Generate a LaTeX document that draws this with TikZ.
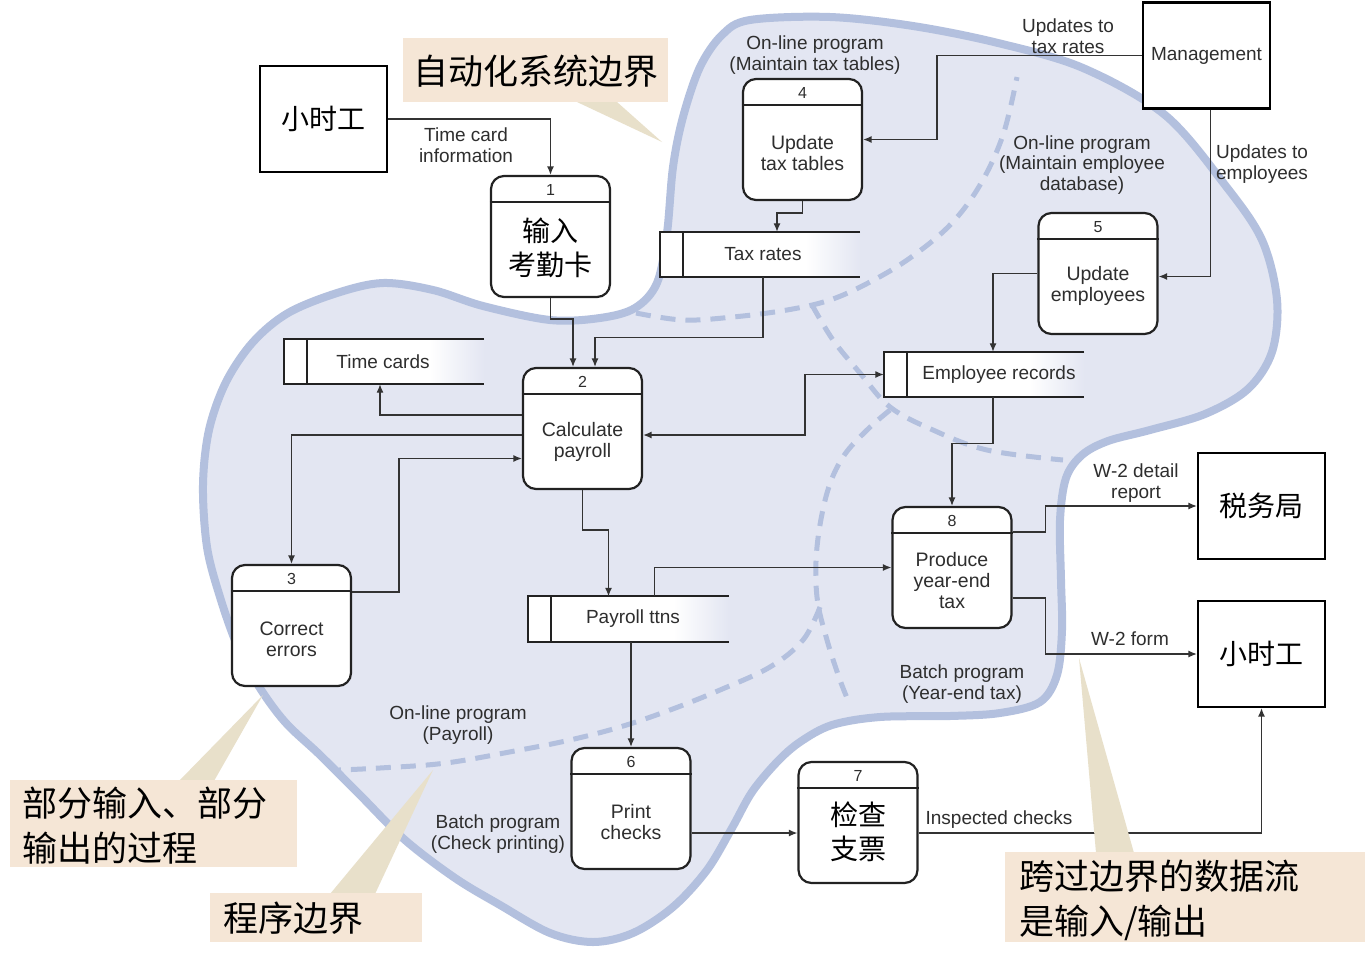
\documentclass[tikz,border=0pt]{standalone}
\usepackage{fontspec}
\setmainfont{Liberation Sans}
\newfontfamily\cjk{Noto Sans CJK SC}
\usetikzlibrary{arrows.meta}
\definecolor{blobfill}{HTML}{E3E6F2}
\definecolor{blobline}{HTML}{B3C0DE}
\definecolor{linec}{HTML}{333333}
\definecolor{txtc}{HTML}{2E2E2E}
\definecolor{boxc}{HTML}{222222}
\definecolor{callfill}{HTML}{F5E6D6}
\definecolor{pointc}{HTML}{E8E0CA}

\newcommand\mkproc[7]{%
  \node[procbox] (#1) at (#2,#3) {};
  \draw[hdrline] ([yshift=-27pt]#1.north west) -- ([yshift=-27pt]#1.north east);
  \node[numtxt] (#1-num) at ([yshift=-15.5pt]#1.north) {#4};
  \node[#6] (#1-txt) at ([yshift=-#7pt]#1.north) {#5};
}
\newcommand\mkstore[5]{%
  \node[storenode] (#1) at (#2,#3) {};
  \fill[white] (#1.north west) rectangle ([xshift=-55pt]#1.south east);
  \shade[left color=white, right color=blobfill] ([xshift=-55pt]#1.north east) rectangle (#1.south east);
  \draw[storeline] (#1.north east) -- (#1.north west) -- (#1.south west) -- (#1.south east);
  \draw[storeline] ([xshift=23pt]#1.north west) -- ([xshift=23pt]#1.south west);
  \node[lbl] (#1-txt) at ([xshift=#5]#1.center) {#4};
}

\begin{document}
\begin{tikzpicture}[x=1pt,y=-1pt,
  procbox/.style={draw=boxc, line width=2.2pt, fill=white, rounded corners=13pt,
    minimum width=119pt, minimum height=121pt, inner sep=0pt},
  hdrline/.style={draw=boxc, line width=2pt},
  numtxt/.style={font=\fontsize{16}{16}\selectfont, text=txtc, inner sep=0pt},
  ptxt/.style={font=\fontsize{19.5}{21}\selectfont, text=txtc, align=center, inner sep=0pt},
  pcjk/.style={font=\cjk\fontsize{28}{34}\selectfont, text=black, align=center, inner sep=0pt},
  ent/.style={draw=black, line width=2.2pt, fill=white, minimum width=127pt,
    minimum height=106pt, inner sep=0pt},
  entcjk/.style={ent, font=\cjk\fontsize{28}{34}\selectfont},
  storenode/.style={minimum width=200pt, minimum height=45pt, inner sep=0pt},
  storeline/.style={draw=boxc, line width=2.2pt},
  lbl/.style={font=\fontsize{19}{20.5}\selectfont, text=txtc, align=center, inner sep=0pt},
  flow/.style={draw=linec, line width=1.3pt, -{Latex[length=8.5pt,width=7pt]}},
  bidir/.style={draw=linec, line width=1.3pt, {Latex[length=8.5pt,width=7pt]}-{Latex[length=8.5pt,width=7pt]}},
  boundary/.style={draw=blobline, line width=8pt, fill=blobfill},
  progline/.style={draw=blobline, line width=5pt, dash pattern=on 15pt off 10pt},
  callbox/.style={fill=callfill, inner sep=0pt},
  calltxt/.style={font=\cjk\fontsize{35}{45}\selectfont, text=black, align=left, inner sep=0pt},
  pointer/.style={fill=pointc}
]
\useasboundingbox (0,0) rectangle (1365,978);
\fill[white] (0,0) rectangle (1365,978);

% automated system boundary
\path[boundary] plot[smooth cycle, tension=0.55] coordinates {
  (750,20) (830,17) (913,26) (998,43) (1083,68) (1165,115) (1225,185) (1262,240)
  (1277,300) (1272,352) (1248,389) (1205,414) (1150,430) (1108,441) (1082,455)
  (1066,478) (1060,520) (1061,580) (1062,630) (1057,675) (1040,702) (1000,713)
  (950,716) (880,717) (832,725) (800,742) (777,762) (752,792) (732,828) (707,870)
  (673,907) (633,933) (593,942) (550,933) (500,905) (455,878) (405,840) (360,795)
  (320,755) (285,722) (258,685) (237,645) (220,597) (207,547) (203,485) (209,430)
  (226,382) (253,342) (288,313) (337,293) (383,283) (433,290) (483,306) (550,320)
  (600,318) (635,308) (657,283) (667,233) (673,167) (683,117) (700,67) (722,35)};

% program boundaries
\draw[progline] plot[smooth, tension=0.6] coordinates {
  (636,313) (683,320) (733,317) (787,310) (830,300) (870,282) (910,258) (950,225)
  (980,185) (1003,135) (1017,77)};
\draw[progline] plot[smooth, tension=0.6] coordinates {
  (812,305) (833,340) (860,373) (890,407) (933,430) (987,450) (1063,460)};
\draw[progline] plot[smooth, tension=0.6] coordinates {
  (890,410) (867,430) (843,457) (827,493) (817,547) (817,597) (827,640) (840,680) (850,705)};
\draw[progline] plot[smooth, tension=0.6] coordinates {
  (820,607) (803,640) (770,667) (720,690) (670,710) (620,727) (570,740) (520,750)
  (446,763) (380,768) (339,770)};

% external entities
\node[entcjk] (e1) at (323.5,119) {小时工};
\node[ent, font=\fontsize{19}{20}\selectfont, text=txtc] (mg) at (1206.5,55.5) {Management};
\node[entcjk] (tb) at (1261.5,506) {税务局};
\node[entcjk] (e2) at (1261.5,654) {小时工};

% processes
\mkproc{p1}{550.5}{236.5}{1}{输入\\考勤卡}{pcjk}{72.5}
\mkproc{p2}{582.5}{428.5}{2}{Calculate\\payroll}{ptxt}{75}
\mkproc{p3}{291.5}{625.5}{3}{Correct\\errors}{ptxt}{75}
\mkproc{p4}{802.5}{139.5}{4}{Update\\tax tables}{ptxt}{75}
\mkproc{p5}{1098}{273.5}{5}{Update\\employees}{ptxt}{74}
\mkproc{p6}{631}{808.5}{6}{Print\\checks}{ptxt}{75}
\mkproc{p7}{858}{822.5}{7}{检查\\支票}{pcjk}{70.5}
\mkproc{p8}{952}{567.5}{8}{Produce\\year-end\\tax}{ptxt}{75}

% data stores
\mkstore{tr}{760}{254.5}{Tax rates}{3pt}
\mkstore{tc}{384}{361.5}{Time cards}{-1pt}
\mkstore{er}{984}{374.5}{Employee records}{15pt}
\mkstore{pay}{628.5}{619}{Payroll ttns}{4.5pt}

% data flows
\draw[flow] (e1.east) -| (p1.north);
\draw[flow] (p1.south) -- ++(0,21) -| ([xshift=-9.5pt]p2.north);
\draw[flow] ([xshift=3pt]tr.south) -- ++(0,60) -| ([xshift=12.5pt]p2.north);
\draw[flow] (p4.south) -- ++(0,12) -| ([xshift=17pt]tr.north);
\draw[flow] (mg.west) -- ++(-205,0) |- (p4.east);
\draw[flow] ([xshift=4pt]mg.south) |- ([yshift=-3pt]p5.east);
\draw[flow] (p5.west) -| ([xshift=9pt]er.north);
\draw[bidir] ([yshift=-6.5pt]p2.east) -- ++(162,0) |- (er.west);
\draw[flow] ([xshift=9pt]er.south) -- ++(0,46) -| (p8.north);
\draw[flow] ([yshift=13.5pt]p2.west) -| ([xshift=-4pt]tc.south);
\draw[flow] ([yshift=-6.5pt]p2.west) -| (p3.north);
\draw[flow] ([yshift=33.5pt]p3.east) -- ++(47,0) |- ([yshift=-30pt]p2.west);
\draw[flow] (p2.south) -- ++(0,40) -| ([xshift=-20pt]pay.north);
\draw[flow] ([xshift=26pt]pay.north) |- (p8.west);
\draw[flow] (pay.south -| p6.north) -- (p6.north);
\draw[flow] ([yshift=-24.5pt]p6.east) -- ([yshift=-24.5pt]p6.east -| p7.west);
\draw[flow] ([yshift=-10.5pt]p7.east) -| (e2.south);
\draw[flow] ([yshift=35.5pt]p8.east) -- ++(33,0) |- (tb.west);
\draw[flow] ([yshift=-30.5pt]p8.east) -- ++(33,0) |- (e2.west);

% labels
\node[lbl] (l-tci) at (466,145) {Time card\\information};
\node[lbl] (l-mtt) at (815,55) {On-line program\\(Maintain tax tables)};
\node[lbl] (l-utr) at (1068,36) {Updates to\\tax rates};
\node[lbl] (l-med) at (1082,165) {On-line program\\(Maintain employee\\database)};
\node[lbl] (l-ute) at (1262,164) {Updates to\\employees};
\node[lbl] (l-w2d) at (1136,483) {W-2 detail\\report};
\node[lbl] (l-w2f) at (1130,639) {W-2 form};
\node[lbl] (l-bye) at (962,684) {Batch program\\(Year-end tax)};
\node[lbl] (l-olp) at (458,725) {On-line program\\(Payroll)};
\node[lbl] (l-bcp) at (498,834) {Batch program\\(Check printing)};
\node[lbl] (l-ins) at (999,820) {Inspected checks};

% callouts
\fill[pointer] (577,102) -- (617,102) -- (662,142) -- cycle;
\fill[pointer] (179,781) -- (214,781) -- (263,695) -- cycle;
\fill[pointer] (330,894) -- (375,894) -- (433,770) -- cycle;
\fill[pointer] (1096,853) -- (1134,853) -- (1079,658) -- cycle;
\node[callbox, minimum width=265pt, minimum height=64pt] (c1) at (535.5,70) {};
\node[calltxt] (c1-txt) at (536,71) {自动化系统边界};
\node[callbox, minimum width=287pt, minimum height=87pt] (c2) at (153.5,823.5) {};
\node[calltxt, anchor=west] (c2-txt) at (22,826) {部分输入、部分\\输出的过程};
\node[callbox, minimum width=212pt, minimum height=49pt] (c3) at (316,917.5) {};
\node[calltxt, anchor=west] (c3-txt) at (223,918) {程序边界};
\node[callbox, minimum width=360pt, minimum height=90pt] (c4) at (1185,897) {};
\node[calltxt, anchor=west] (c4-txt) at (1019,900) {跨过边界的数据流\\是输入/输出};
\end{tikzpicture}
\end{document}
